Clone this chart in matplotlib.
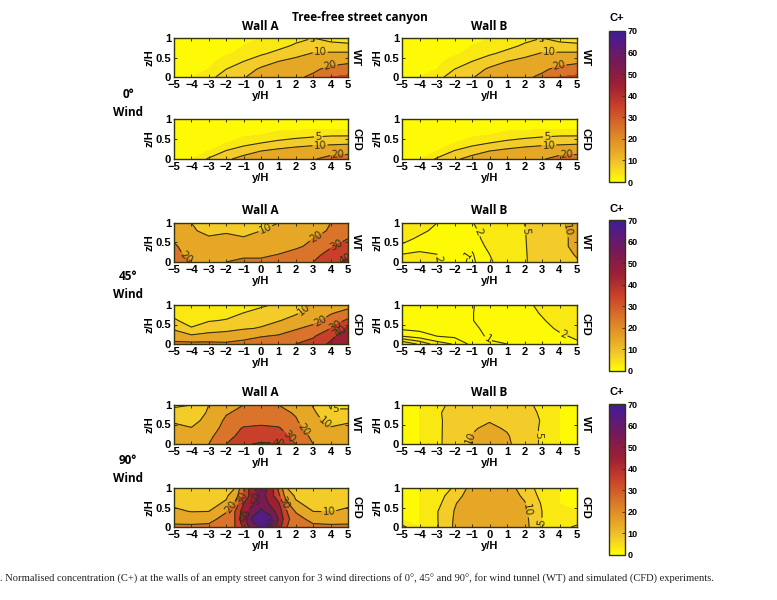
import matplotlib
matplotlib.use('Agg')
import numpy as np
from matplotlib import pyplot as plt
from matplotlib.colors import LinearSegmentedColormap, Normalize
from matplotlib.cm import ScalarMappable

y_h = [-5, -4, -3, -2, -1, 0, 1, 2, 3, 4, 5]
y_fine = [-5, -4, -3, -2, -1.5, -1, -0.5, 0, 0.5, 1, 1.5, 2, 3, 4, 5]
z_h = [0, 0.2, 0.4, 0.6, 0.8, 1]

# rows go from z/H = 0 up to z/H = 1
a0_wt = [[1, 2, 4, 6.5, 9.5, 13, 15, 18, 22, 30, 32],
         [0.5, 1, 2, 5, 7, 11, 13, 15, 18, 23, 25],
         [0.3, 0.5, 1, 3.5, 5, 7, 10, 12, 13, 16, 18],
         [0.2, 0.3, 0.5, 1.5, 3, 4.5, 6, 8, 10.5, 11, 11],
         [0.2, 0.2, 0.3, 1, 2, 3, 4, 5.5, 7, 5.5, 5.5],
         [0.2, 0.2, 0.3, 0.5, 1, 2, 3, 4, 5, 4.5, 4]]
a0_cfd = [[1, 2, 5.5, 9, 12, 14, 15.5, 17, 19, 24, 26],
          [0.5, 1, 2, 5.2, 7.5, 10, 11.5, 13, 14, 15, 15.5],
          [0.2, 0.5, 1, 2, 3.5, 5, 6, 7, 8, 8.5, 9],
          [0.2, 0.2, 0.5, 1, 1.5, 2, 3, 3.5, 4, 4.5, 4.5],
          [0.2, 0.2, 0.3, 0.5, 1, 1, 1, 1, 1, 1, 1],
          [0.2, 0.2, 0.3, 0.5, 1, 1, 1, 1, 1, 1, 1]]
b0_wt = a0_wt
b0_cfd = a0_cfd

a45_wt = [[25, 20, 17, 20, 22, 22, 25, 27, 30, 36, 43],
          [24, 16, 14, 15, 18, 18, 20, 24, 27, 33, 38],
          [22, 13, 13, 13.5, 14, 14, 15.5, 18, 23, 29, 34],
          [18, 11, 10.5, 11, 10.3, 12, 14, 16, 20, 26, 30],
          [15, 10.5, 9, 9.5, 9, 10, 12.5, 15, 17, 21, 26],
          [14, 10, 8.5, 8.5, 8.5, 8.5, 10, 14, 17, 20, 24]]
a45_cfd = [[23, 23, 23, 22, 24, 25, 26, 30, 33, 42, 50],
           [14, 11, 12, 13, 16, 19.5, 21, 25, 29, 37, 47],
           [9, 5.3, 7.5, 8, 9.3, 10.5, 15, 19, 23, 30, 42],
           [5.5, 3.5, 4.7, 5.3, 7, 8, 9.5, 13, 17, 24, 32],
           [4, 2.5, 3, 3.5, 5, 6, 7, 9, 13, 19, 23],
           [3, 2, 2.5, 3, 4, 4.5, 5.5, 7, 11, 15, 17]]
b45_wt = [[2.6, 2.8, 2.05, 1.4, 0.8, 1.8, 2.8, 4.7, 6.5, 8, 9.5],
          [2.0, 2.2, 2.0, 1.4, 0.9, 2.0, 3, 4.75, 6.5, 8, 10.5],
          [1.8, 1.6, 1.5, 1.4, 1.2, 2.3, 3.2, 4.8, 6.5, 8, 12],
          [2.4, 1.8, 1.5, 1.4, 1.4, 2.6, 3.4, 4.85, 6.5, 8, 12],
          [3, 2.3, 1.7, 1.4, 1.6, 2.8, 3.5, 4.9, 6.5, 8.5, 12],
          [3, 3, 2, 1.4, 1.9, 3, 3.6, 5, 6.5, 9, 12]]
b45_cfd = [[5, 3.8, 2.5, 1.9, 0.7, 0.9, 1.0, 1.2, 1.5, 1.7, 1.9],
           [2, 1.5, 1, 0.8, 0.75, 1.1, 1.3, 1.4, 1.65, 1.9, 2.1],
           [0.8, 0.7, 0.7, 0.7, 0.85, 1.2, 1.5, 1.6, 1.8, 2.1, 2.2],
           [0.5, 0.5, 0.6, 0.6, 0.97, 1.3, 1.6, 1.7, 1.95, 2.2, 2.3],
           [0.5, 0.5, 0.5, 0.5, 0.97, 1.3, 1.7, 1.8, 2.05, 2.3, 2.4],
           [0.5, 0.5, 0.5, 0.5, 0.95, 1.3, 1.8, 1.9, 2.1, 2.4, 2.5]]

a90_wt = [[18, 17, 20, 30, 39, 41, 40.5, 30, 20, 17, 18],
          [15, 14, 17.5, 27, 33, 36, 34, 27, 17.5, 14, 15],
          [12, 10.3, 14.5, 24, 31, 32, 31, 23.5, 14.5, 10.5, 12],
          [9, 8, 12, 22, 26, 27, 26, 21, 12, 8, 9],
          [6, 5.3, 11, 19, 23, 23, 23, 19, 11, 5.5, 5.5],
          [4.5, 5, 10, 16, 20, 20, 20, 15, 9.5, 4.5, 4.5]]
# this one is sharp in the middle so it gets extra columns (y_fine)
a90_cfd = [[23, 23, 23, 26, 30, 42, 55, 62, 60, 45, 30, 26, 23, 23, 23],
           [15, 14, 16, 25, 30, 48, 62, 68, 66, 50, 32, 25, 16, 14, 15],
           [11, 9.8, 10, 19, 30, 45, 55, 62, 56, 46, 30, 19, 10, 9.8, 11],
           [9, 7.5, 8, 11, 22, 40, 48, 56, 49, 42, 22, 11, 8, 7.5, 9],
           [7.5, 6.5, 7, 9, 14, 32, 45, 54, 46, 33, 14, 9, 7, 6.5, 7.5],
           [7, 6, 6, 8, 10, 28, 48, 54, 48, 28, 10, 8, 6, 6, 7]]
b90_wt = [[1.5, 2, 4, 7.5, 10.5, 12, 11, 7, 4.5, 2, 1.5],
          [1.5, 2, 4, 7.4, 10.2, 11.5, 10.5, 7, 4.5, 2, 1.5],
          [1.5, 2, 4, 7.3, 9.5, 11, 9.5, 7, 4.5, 2, 1.5],
          [1.5, 2, 4, 7.2, 8.5, 9.7, 8.5, 7, 4.7, 2, 1.5],
          [1.5, 2, 4.3, 7, 8, 8.5, 8, 6.8, 4.3, 2, 1.5],
          [1.5, 2, 3.5, 6.5, 7.5, 8, 7.5, 6.5, 3.5, 2, 1.5]]
b90_cfd = [[6, 2, 4.5, 10.7, 14, 15, 14, 12, 4.5, 3, 6],
           [2, 2, 4.7, 10.5, 14, 15, 14, 11.5, 5, 2.5, 2],
           [2, 2, 4.7, 10.2, 14, 15, 14, 11, 5, 2.5, 2],
           [2, 2, 3.5, 9.5, 14, 15, 14, 10.5, 4.5, 2, 2],
           [2, 2, 3, 7.5, 13, 15, 13, 9, 3.5, 2, 2],
           [2, 2, 2.5, 5.5, 12, 14, 12, 8, 2.5, 2, 2]]

fill_levels = [0, 2, 5, 10, 20, 30, 40, 50, 60, 70]
cbar_ticks = [0, 10, 20, 30, 40, 50, 60, 70]

W, H = 777, 600
LINE = '#33330f'
BOLD = 'Liberation Sans'

stops = [(0, '#ffff00'), (7.5, '#f4cb2a'), (15, '#e6a526'), (25, '#d9742a'),
         (35, '#c9402a'), (45, '#9c1f35'), (55, '#781a55'), (65, '#541a85'),
         (70, '#3a1f9a')]
cmap = LinearSegmentedColormap.from_list('cplus', [(v / 70, c) for v, c in stops])
norm = Normalize(0, 70)
fill_colors = [cmap(norm((a + b) / 2)) for a, b in zip(fill_levels[:-1], fill_levels[1:])]

fig = plt.figure(figsize=(W / 100, H / 100), dpi=100)


def box(left, top, right, bottom):
    return [left / W, 1 - bottom / H, (right - left) / W, (bottom - top) / H]


def put(x, y, s, **kw):
    fig.text(x / W, 1 - y / H, s, ha='center', va='center', **kw)


def panel(pos, grid, ys, line_levels, side, labels):
    ax = fig.add_axes(box(*pos))
    data = np.array(grid)
    ax.contourf(ys, z_h, data, levels=fill_levels, colors=fill_colors)
    cs = ax.contour(ys, z_h, data, levels=line_levels, colors=LINE, linewidths=0.8)
    if labels:
        ax.clabel(cs, fmt='%d', manual=labels, fontsize=7.5, inline=True, inline_spacing=1)
    ax.set_xlim(-5, 5)
    ax.set_ylim(0, 1)
    ax.set_xticks(y_h)
    ax.set_yticks([0, 0.5, 1])
    ax.set_yticklabels(['0', '0.5', '1'])
    ax.tick_params(direction='in', length=2, width=0.7, top=True, right=True,
                   color=LINE, pad=2, labelsize=8)
    for lab in ax.get_xticklabels() + ax.get_yticklabels():
        lab.set_fontfamily(BOLD)
        lab.set_fontweight('bold')
    for sp in ax.spines.values():
        sp.set_color(LINE)
        sp.set_linewidth(1.0)
    ax.set_xlabel('y/H', fontsize=8, fontfamily=BOLD, fontweight='bold', labelpad=1)
    ax.set_ylabel('z/H', fontsize=8, fontfamily=BOLD, fontweight='bold', labelpad=1)
    ax.text(1.02, 0.5, side, transform=ax.transAxes, rotation=-90, ha='left', va='center',
            fontsize=8, fontfamily=BOLD, fontweight='bold')
    return ax


left_col = (174, 348)
right_col = (402, 577)
rows = [(38, 77), (119, 159), (223, 262), (305, 344), (405, 444), (488, 527)]

panel((left_col[0], rows[0][0], left_col[1], rows[0][1]), a0_wt, y_h, [5, 10, 20], 'WT',
      [(3.0, 0.92), (3.4, 0.56), (4.0, 0.25)])
panel((left_col[0], rows[1][0], left_col[1], rows[1][1]), a0_cfd, y_h, [5, 10, 20], 'CFD',
      [(3.3, 0.52), (3.4, 0.28), (4.4, 0.08)])
panel((right_col[0], rows[0][0], right_col[1], rows[0][1]), b0_wt, y_h, [5, 10, 20], 'WT',
      [(3.0, 0.92), (3.4, 0.56), (4.0, 0.25)])
panel((right_col[0], rows[1][0], right_col[1], rows[1][1]), b0_cfd, y_h, [5, 10, 20], 'CFD',
      [(3.3, 0.52), (3.4, 0.28), (4.4, 0.08)])

panel((left_col[0], rows[2][0], left_col[1], rows[2][1]), a45_wt, y_h, [10, 20, 30, 40], 'WT',
      [(0.3, 0.8), (3.1, 0.7), (4.3, 0.45), (4.8, 0.12), (-4.3, 0.12)])
panel((left_col[0], rows[3][0], left_col[1], rows[3][1]), a45_cfd, y_h, [5, 10, 20, 30, 40], 'CFD',
      [(2.6, 0.82), (3.5, 0.5), (4.3, 0.45), (4.9, 0.15)])
panel((right_col[0], rows[2][0], right_col[1], rows[2][1]), b45_wt, y_h, [1, 2, 5, 10], 'WT',
      [(-0.7, 0.75), (-1.5, 0.25), (-3.1, 0.07), (2.0, 0.8), (4.7, 0.85)])
panel((right_col[0], rows[3][0], right_col[1], rows[3][1]), b45_cfd, y_h, [1, 2, 3, 4], 'CFD',
      [(-0.1, 0.12), (4.2, 0.22)])

panel((left_col[0], rows[4][0], left_col[1], rows[4][1]), a90_wt, y_h, [5, 10, 20, 30, 40], 'WT',
      [(4.3, 0.82), (3.5, 0.45), (2.5, 0.4), (1.7, 0.25), (1.0, 0.05)])
panel((left_col[0], rows[5][0], left_col[1], rows[5][1]), a90_cfd, y_fine, [10, 20, 30, 40, 50, 60], 'CFD',
      [(3.9, 0.38), (-1.7, 0.5), (-1.0, 0.72), (1.2, 0.6), (0.0, 0.7), (-0.8, 0.28), (0.4, 0.1)])
panel((right_col[0], rows[4][0], right_col[1], rows[4][1]), b90_wt, y_h, [5, 10], 'WT',
      [(2.6, 0.22), (-1.1, 0.15)])
panel((right_col[0], rows[5][0], right_col[1], rows[5][1]), b90_cfd, y_h, [5, 10], 'CFD',
      [(2.8, 0.14), (2.0, 0.42)])

# colour bars
for top, bottom, label_y in [(31, 182, 18), (220, 371, 209), (404, 555, 392)]:
    cax = fig.add_axes(box(609, top, 625, bottom))
    cb = fig.colorbar(ScalarMappable(norm=norm, cmap=cmap), cax=cax, ticks=cbar_ticks)
    cb.outline.set_edgecolor(LINE)
    cb.outline.set_linewidth(1.0)
    cax.tick_params(direction='in', length=2, width=0.6, color=LINE, pad=2, labelsize=6.5)
    for lab in cax.get_yticklabels():
        lab.set_fontfamily(BOLD)
        lab.set_fontweight('bold')
    put(617, label_y, 'C+', fontsize=8, fontfamily=BOLD, fontweight='bold')

put(360, 17, 'Tree-free street canyon', fontsize=8.5, fontfamily='Open Sans', fontweight='bold')
for x in (260, 489):
    name = 'Wall A' if x == 260 else 'Wall B'
    put(x, 26, name, fontsize=8.5, fontfamily='Open Sans', fontweight='bold')
    put(x, 211, name, fontsize=8.5, fontfamily='Open Sans', fontweight='bold')
    put(x, 393, name, fontsize=8.5, fontfamily='Open Sans', fontweight='bold')

for y, angle in [(94, '0°'), (277, '45°'), (461, '90°')]:
    put(128, y, angle, fontsize=8.5, fontfamily='Open Sans', fontweight='bold')
    put(128, y + 18, 'Wind', fontsize=8.5, fontfamily='Open Sans', fontweight='bold')

fig.text(0, 1 - 579 / H, '. Normalised concentration (C+) at the walls of an empty street canyon for 3 wind '
         'directions of 0°, 45° and 90°, for wind tunnel (WT) and simulated (CFD) experiments.',
         ha='left', va='center', fontsize=7.6, fontfamily='Liberation Serif', color='#222222')

plt.savefig('out.png', dpi=100)
